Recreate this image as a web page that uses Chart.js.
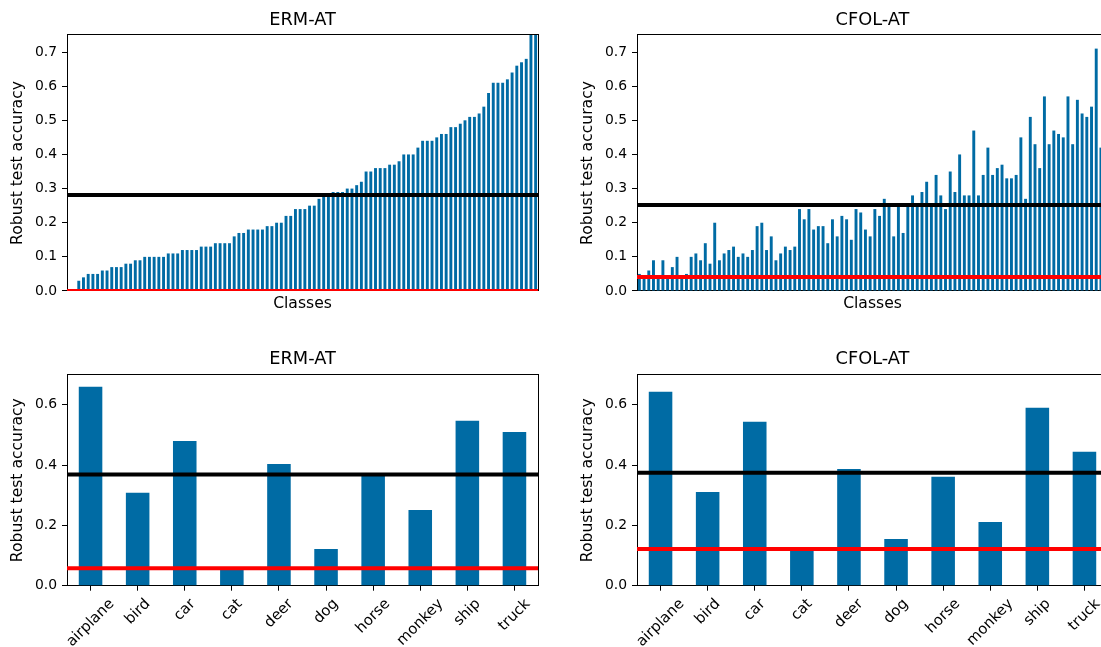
<!DOCTYPE html>
<html><head><meta charset="utf-8">
<script src="https://cdn.jsdelivr.net/npm/chart.js@4.4.0/dist/chart.umd.min.js"></script>
<style>
html,body{margin:0;padding:0;background:#fff;overflow:hidden;width:1101px;height:647px;position:relative;}
.box{position:absolute;}
</style></head><body>
<div class="box" style="left:0;top:0;width:560px;height:330px"><canvas id="c1"></canvas></div>
<div class="box" style="left:570px;top:0;width:560px;height:330px"><canvas id="c2"></canvas></div>
<div class="box" style="left:0;top:330px;width:560px;height:317px"><canvas id="c3"></canvas></div>
<div class="box" style="left:570px;top:330px;width:560px;height:317px"><canvas id="c4"></canvas></div>
<script>
// ---- data ----
const cifarClasses = Array.from({length: 100}, (_, i) => 'class ' + (i + 1));
const ermCifar = [0.00, 0.00, 0.03, 0.04, 0.05, 0.05, 0.05, 0.06, 0.06, 0.07,
                  0.07, 0.07, 0.08, 0.08, 0.09, 0.09, 0.10, 0.10, 0.10, 0.10,
                  0.10, 0.11, 0.11, 0.11, 0.12, 0.12, 0.12, 0.12, 0.13, 0.13,
                  0.13, 0.14, 0.14, 0.14, 0.14, 0.16, 0.17, 0.17, 0.18, 0.18,
                  0.18, 0.18, 0.19, 0.19, 0.20, 0.20, 0.22, 0.22, 0.24, 0.24,
                  0.24, 0.25, 0.25, 0.27, 0.28, 0.28, 0.29, 0.29, 0.29, 0.30,
                  0.30, 0.31, 0.32, 0.35, 0.35, 0.36, 0.36, 0.36, 0.37, 0.37,
                  0.38, 0.40, 0.40, 0.40, 0.42, 0.44, 0.44, 0.44, 0.45, 0.46,
                  0.46, 0.48, 0.48, 0.49, 0.50, 0.51, 0.51, 0.52, 0.54, 0.58,
                  0.61, 0.61, 0.61, 0.62, 0.64, 0.66, 0.67, 0.68, 0.80, 0.85];
const cfolCifar = [0.05, 0.04, 0.06, 0.09, 0.04, 0.09, 0.04, 0.07, 0.10, 0.04,
                   0.05, 0.10, 0.11, 0.09, 0.14, 0.08, 0.20, 0.09, 0.11, 0.12,
                   0.13, 0.10, 0.11, 0.10, 0.12, 0.19, 0.20, 0.12, 0.16, 0.09,
                   0.11, 0.13, 0.12, 0.13, 0.24, 0.21, 0.24, 0.18, 0.19, 0.19,
                   0.14, 0.21, 0.16, 0.22, 0.21, 0.15, 0.24, 0.23, 0.18, 0.16,
                   0.24, 0.22, 0.27, 0.25, 0.16, 0.25, 0.17, 0.25, 0.28, 0.25,
                   0.29, 0.32, 0.25, 0.34, 0.28, 0.24, 0.35, 0.29, 0.40, 0.28,
                   0.28, 0.47, 0.28, 0.34, 0.42, 0.34, 0.36, 0.37, 0.33, 0.33,
                   0.34, 0.45, 0.27, 0.51, 0.43, 0.36, 0.57, 0.43, 0.47, 0.46,
                   0.45, 0.57, 0.43, 0.56, 0.52, 0.51, 0.54, 0.71, 0.42, 0.45];
const stlClasses = ['airplane', 'bird', 'car', 'cat', 'deer', 'dog', 'horse', 'monkey', 'ship', 'truck'];
const ermStl  = [0.660, 0.308, 0.480, 0.057, 0.404, 0.122, 0.366, 0.251, 0.547, 0.510];
const cfolStl = [0.643, 0.311, 0.544, 0.122, 0.387, 0.155, 0.361, 0.211, 0.590, 0.444];
// [average, worst class]
const ermCifarLines  = [0.281, 0.000];
const cfolCifarLines = [0.252, 0.041];
const ermStlLines    = [0.369, 0.058];
const cfolStlLines   = [0.375, 0.122];
const yTicksTop    = [0.0, 0.1, 0.2, 0.3, 0.4, 0.5, 0.6, 0.7];
const yTicksBottom = [0.0, 0.2, 0.4, 0.6];

// ---- rendering ----
Chart.defaults.font.family = 'DejaVu Sans';
Chart.defaults.font.size = 13.9;
Chart.defaults.color = '#000';

const mplRotatedLabels = {
  id: 'mplRotatedLabels',
  beforeDraw(chart) {
    const sc = chart.scales.x;
    if (!sc.options.ticks.display) return;
    const items = sc.getLabelItems();
    const ctx = chart.ctx;
    ctx.save();
    items.forEach((it, i) => {
      ctx.font = it.font.string;
      const w = ctx.measureText(it.label).width;
      const h = it.font.size * 1.164;
      const cx = sc.getPixelForTick(i);
      const topY = sc.top + 5 + 4.9;
      const cy = topY + (w + h) * Math.SQRT1_2 / 2;
      it.options.translation = [cx, cy];
      it.options.textAlign = 'center';
      it.options.textBaseline = 'middle';
      it.textOffset = 0;
    });
    ctx.restore();
  }
};

function makeChart(id, cfg) {
  const {labels, values, lines, yMax, yTicks, title, titleTop, barPct, xHeight, rotated} = cfg;
  const n = labels.length;
  const lineColors = ['#000000', '#ff0000'];
  const datasets = lines.map((v, k) => ({
    type: 'line',
    data: [{x: -0.5, y: v}, {x: n - 0.5, y: v}],
    xAxisID: 'x2', yAxisID: 'y',
    borderColor: lineColors[k], borderWidth: 4,
    pointRadius: 0, clip: 0, order: 0, tension: 0
  }));
  datasets.push({
    type: 'bar', data: values, xAxisID: 'x', yAxisID: 'y',
    backgroundColor: '#006BA4', borderWidth: 0, grouped: false,
    barPercentage: barPct, categoryPercentage: 1, order: 1
  });
  return new Chart(document.getElementById(id), {
    type: 'bar',
    data: {labels, datasets},
    plugins: [mplRotatedLabels],
    options: {
      responsive: true, maintainAspectRatio: false, animation: false,
      devicePixelRatio: 1, events: [],
      layout: {padding: {left: 0, right: 22, top: 0, bottom: 0}},
      plugins: {
        legend: {display: false}, tooltip: {enabled: false},
        title: {display: true, text: title, fullSize: false, color: '#000',
                font: {size: 17.8, weight: 'normal'},
                padding: {top: titleTop, bottom: 4.3}}
      },
      scales: {
        x: {
          type: 'category', position: 'bottom', offset: true,
          grid: {display: rotated, drawOnChartArea: false, drawTicks: true, tickLength: 5,
                 offset: false, color: '#000', lineWidth: 1},
          border: {display: true, color: '#000', width: 1},
          ticks: {display: rotated, autoSkip: false, minRotation: 45, maxRotation: 45, padding: 5,
                  color: '#000', font: {size: 14.8}},
          title: {display: !rotated, text: 'Classes', color: '#000', font: {size: 15.6},
                  padding: {top: 0, bottom: 16.6}},
          afterFit: s => { s.height = xHeight; }
        },
        x2: {
          type: 'linear', position: 'top', min: -0.5, max: n - 0.5, offset: false,
          grid: {display: false, drawTicks: false, offset: false}, ticks: {display: false},
          border: {display: true, color: '#000', width: 1},
          afterFit: s => { s.height = 0; }
        },
        y: {
          type: 'linear', position: 'left', min: 0, max: yMax,
          afterBuildTicks: s => { s.ticks = yTicks.map(v => ({value: v})); },
          ticks: {callback: v => Number(v).toFixed(1), padding: 5, color: '#000'},
          grid: {display: true, drawOnChartArea: false, drawTicks: true, tickLength: 5, color: '#000', lineWidth: 1},
          border: {display: true, color: '#000', width: 1},
          title: {display: true, text: 'Robust test accuracy', color: '#000', font: {size: 15.6},
                  padding: {top: 9, bottom: 0}},
          afterFit: s => { s.width = 67; }
        },
        yR: {
          type: 'linear', position: 'right',
          grid: {display: false, drawTicks: false}, ticks: {display: false},
          border: {display: true, color: '#000', width: 1},
          afterFit: s => { s.width = 0; }
        }
      }
    }
  });
}

makeChart('c1', {labels: cifarClasses, values: ermCifar, lines: ermCifarLines, yMax: 0.75, yTicks: yTicksTop,
  title: 'ERM-AT', titleTop: 9.3, barPct: 0.62, xHeight: 39, rotated: false});
makeChart('c2', {labels: cifarClasses, values: cfolCifar, lines: cfolCifarLines, yMax: 0.75, yTicks: yTicksTop,
  title: 'CFOL-AT', titleTop: 9.3, barPct: 0.62, xHeight: 39, rotated: false});
makeChart('c3', {labels: stlClasses, values: ermStl, lines: ermStlLines, yMax: 0.70, yTicks: yTicksBottom,
  title: 'ERM-AT', titleTop: 19, barPct: 0.5, xHeight: 61.3, rotated: true});
makeChart('c4', {labels: stlClasses, values: cfolStl, lines: cfolStlLines, yMax: 0.70, yTicks: yTicksBottom,
  title: 'CFOL-AT', titleTop: 19, barPct: 0.5, xHeight: 61.3, rotated: true});
</script>
</body></html>
